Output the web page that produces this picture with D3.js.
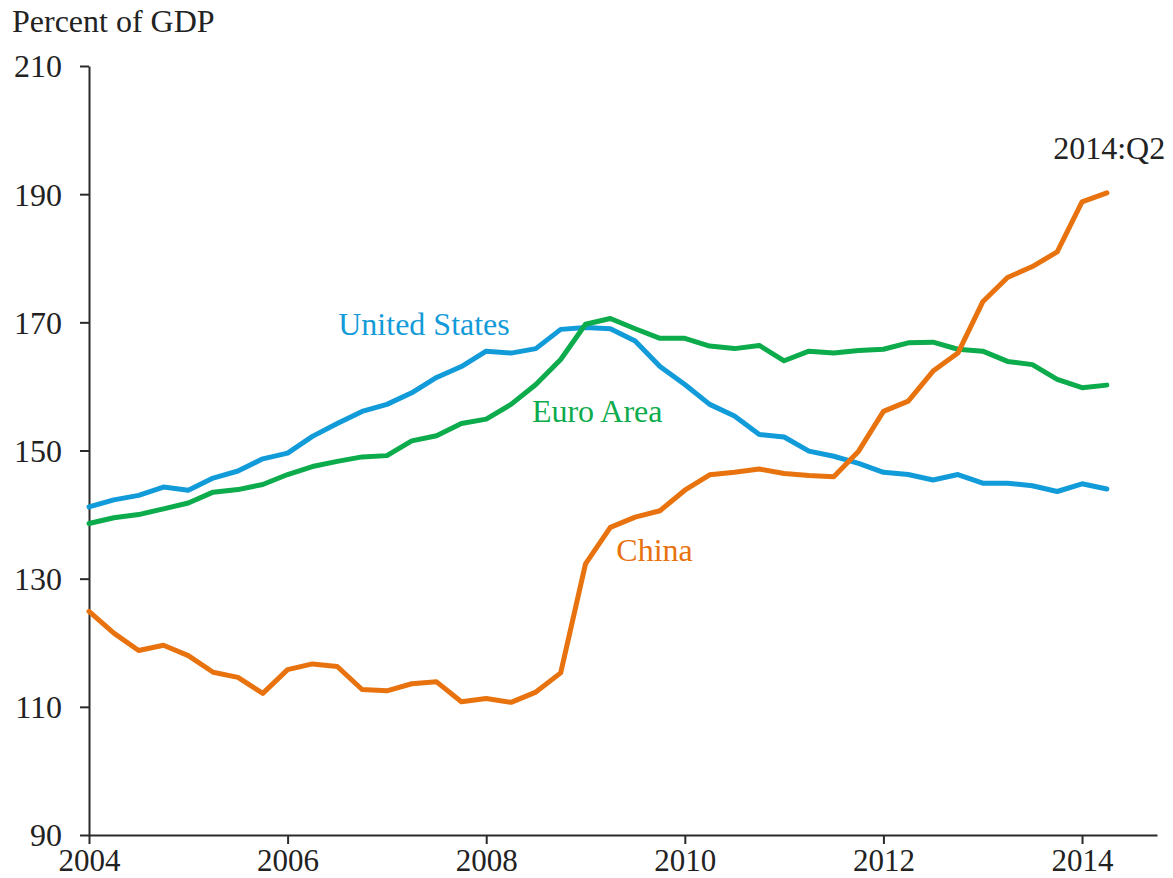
<!DOCTYPE html>
<html>
<head>
<meta charset="utf-8">
<script src="https://cdn.jsdelivr.net/npm/d3@7"></script>
<style>
  html, body { margin: 0; padding: 0; background: #fff; }
  svg { display: block; }
  text { font-family: "Liberation Serif", "DejaVu Serif", serif; }
</style>
</head>
<body>
<svg id="chart" width="1173" height="878"></svg>
<script>
// Quarterly observations, 2004:Q1 .. 2014:Q2 (percent of GDP)
const startYear = 2004;
const unitedStates = [141.2, 142.3, 143.0, 144.3, 143.8, 145.7, 146.8, 148.7, 149.6, 152.2,
  154.2, 156.1, 157.2, 159.0, 161.4, 163.1, 165.5, 165.2, 165.9, 168.9,
  169.2, 169.0, 167.1, 163.1, 160.3, 157.2, 155.4, 152.5, 152.1, 149.9,
  149.1, 148.0, 146.6, 146.25, 145.4, 146.25, 144.9, 144.9, 144.5, 143.6,
  144.8, 144.0];
const euroArea = [138.6, 139.5, 140.0, 140.9, 141.8, 143.5, 143.9, 144.7, 146.25, 147.5,
  148.3, 149.0, 149.2, 151.5, 152.3, 154.2, 154.9, 157.2, 160.3, 164.2,
  169.7, 170.6, 169.0, 167.5, 167.5, 166.3, 165.9, 166.4, 164.0, 165.5,
  165.2, 165.6, 165.8, 166.8, 166.9, 165.8, 165.5, 163.9, 163.4, 161.1,
  159.8, 160.2];
const china = [124.9, 121.5, 118.8, 119.6, 118.0, 115.4, 114.6, 112.1, 115.8, 116.7,
  116.3, 112.7, 112.5, 113.6, 113.9, 110.8, 111.3, 110.7, 112.3, 115.3,
  132.3, 138.0, 139.6, 140.6, 143.8, 146.2, 146.6, 147.1, 146.4, 146.1,
  145.9, 149.9, 156.1, 157.7, 162.4, 165.2, 173.2, 177.0, 178.7, 181.0,
  188.8, 190.2];
const xTicks = [2004, 2006, 2008, 2010, 2012, 2014];
const yTicks = [90, 110, 130, 150, 170, 190, 210];

const seriesList = [
  { name: "United States", values: unitedStates, color: "#129bd9" },
  { name: "Euro Area", values: euroArea, color: "#0cab4b" },
  { name: "China", values: china, color: "#e8720e" }
];

// Direct labels (year, value at text baseline-left)
const annotations = [
  { text: "United States", color: "#129bd9", year: 2006.51, value: 168.0 },
  { text: "Euro Area", color: "#0cab4b", year: 2008.46, value: 154.5 },
  { text: "China", color: "#e8720e", year: 2009.31, value: 132.8 },
  { text: "2014:Q2", color: "#222", year: 2013.71, value: 195.5 }
];

const svg = d3.select("#chart");
const mLeft = 89, mRight = 1157, mTop = 66, mBottom = 835;

const x = d3.scaleLinear().domain([2004, 2014.755]).range([mLeft, mRight]);
const y = d3.scaleLinear().domain([90, 210]).range([mBottom, mTop]);

const axisColor = "#2a2a2a";

// Y axis
const yAxis = svg.append("g")
  .attr("transform", `translate(${mLeft},0)`)
  .call(d3.axisLeft(y).tickValues(yTicks).tickSize(9).tickSizeOuter(0).tickPadding(18).tickFormat(d3.format("d")));
yAxis.select(".domain").attr("stroke", axisColor).attr("stroke-width", 2);
yAxis.selectAll(".tick line").attr("stroke", axisColor).attr("stroke-width", 2);
yAxis.selectAll(".tick text")
  .attr("fill", "#222").attr("font-size", 32)
  .attr("font-family", "Liberation Serif, serif")
  .attr("dy", "0.34em");

// X axis
const xAxis = svg.append("g")
  .attr("transform", `translate(0,${mBottom})`)
  .call(d3.axisBottom(x).tickValues(xTicks).tickSize(9).tickSizeOuter(0).tickFormat(d3.format("d")));
xAxis.select(".domain").attr("stroke", axisColor).attr("stroke-width", 2);
xAxis.selectAll(".tick line").attr("stroke", axisColor).attr("stroke-width", 2);
xAxis.selectAll(".tick text")
  .attr("fill", "#222").attr("font-size", 31)
  .attr("font-family", "Liberation Serif, serif")
  .attr("y", 36).attr("dy", "0");

// Axis title
svg.append("text")
  .attr("x", 12).attr("y", 32)
  .attr("font-size", 32).attr("fill", "#222")
  .text("Percent of GDP");

// Lines
const line = d3.line()
  .x((d, i) => x(startYear + i / 4))
  .y(d => y(d));

svg.append("g").selectAll("path")
  .data(seriesList)
  .join("path")
  .attr("d", d => line(d.values))
  .attr("fill", "none")
  .attr("stroke", d => d.color)
  .attr("stroke-width", 5)
  .attr("stroke-linejoin", "round")
  .attr("stroke-linecap", "round");

// Labels
svg.append("g").selectAll("text")
  .data(annotations)
  .join("text")
  .attr("x", d => x(d.year))
  .attr("y", d => y(d.value))
  .attr("font-size", 32)
  .attr("fill", d => d.color)
  .text(d => d.text);
</script>
</body>
</html>
